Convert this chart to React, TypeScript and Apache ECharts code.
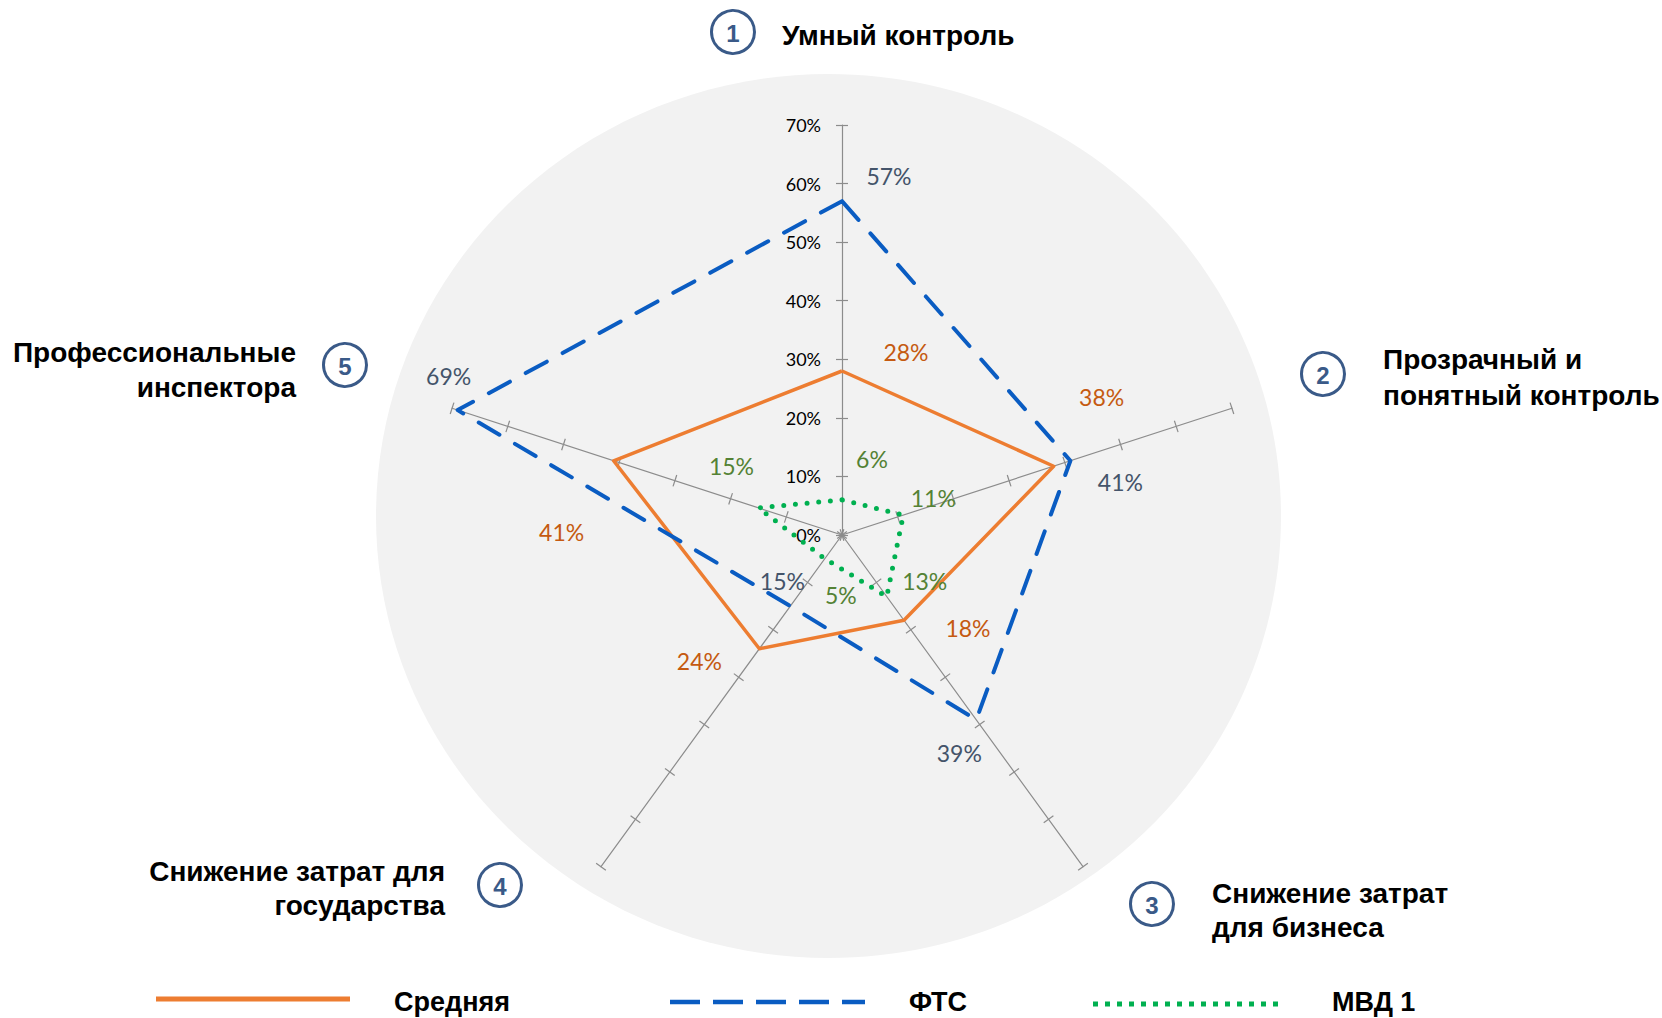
import React, { useEffect, useRef } from 'react';
import * as echarts from 'echarts';

// ---- data ----
const categories = [
  'Умный контроль',
  'Прозрачный и\nпонятный контроль',
  'Снижение затрат\nдля бизнеса',
  'Снижение затрат для\nгосударства',
  'Профессиональные\nинспектора',
];
const categoryNumbers = ['1', '2', '3', '4', '5'];
const seriesNames = ['Средняя', 'ФТС', 'МВД 1'];
const avgValues = [28, 38, 18, 24, 41];
const ftsValues = [57, 41, 39, 15, 69];
const mvdValues = [6, 11, 13, 5, 15];
const tickLabels = ['0%', '10%', '20%', '30%', '40%', '50%', '60%', '70%'];
const tickValues = [0, 10, 20, 30, 40, 50, 60, 70];

// ---- layout / styles ----
const CX = 842;
const CY = 535;
const R = 410;
// display order (ECharts radar runs counter-clockwise from top)
const order = [0, 4, 3, 2, 1];

// label offsets (dx, dy) relative to each vertex, per category
const avgLabelOffsets = [[64, -19], [48, -69], [64, 8], [-60, 12], [-52, 71]];
const ftsLabelOffsets = [[47, -25], [50, 21], [-17, 33], [-8, -25], [-9, -34]];
const mvdLabelOffsets = [[30, -41], [30, -17], [38, -16], [16, 36], [-27, -42]];

const circlePos = [[733, 32], [1323, 374], [1152, 904], [500, 885], [345, 365]];
const namePos: any[] = [
  { x: 782, y: 35, align: 'left', lh: 34 },
  { x: 1383, y: 377, align: 'left', lh: 36 },
  { x: 1212, y: 910, align: 'left', lh: 34 },
  { x: 445, y: 888, align: 'right', lh: 34 },
  { x: 296, y: 370, align: 'right', lh: 35 },
];

const COL_AVG = '#ED7D31';
const COL_FTS = '#0A5CC2';
const COL_MVD = '#00B050';
const LAB_AVG = '#C55A11';
const LAB_FTS = '#44546A';
const LAB_MVD = '#548235';
const NUM_COL = '#3A5A88';
const LABEL_FONT = 'Lato, "Open Sans", sans-serif';
const BOLD_FONT = '"Liberation Sans", Arial, sans-serif';

function makeLabel(values: number[], offsets: number[][], color: string) {
  const rich: any = {};
  offsets.forEach((o, i) => {
    const dx = o[0];
    const dy = o[1];
    rich['p' + i] = {
      color,
      fontSize: 23,
      fontFamily: LABEL_FONT,
      padding: [Math.max(0, 2 * dy), Math.max(0, -2 * dx), Math.max(0, -2 * dy), Math.max(0, 2 * dx)],
    };
  });
  return {
    show: true,
    position: 'inside',
    formatter: (p: any) => {
      const i = values.indexOf(p.value);
      return '{p' + i + '|' + p.value + '%}';
    },
    rich,
  };
}

export default function App() {
  const ref = useRef<HTMLDivElement>(null);
  useEffect(() => {
    if (!ref.current) return;
    const chart = echarts.init(ref.current, null, { renderer: 'svg' });
    const maxV = tickValues[tickValues.length - 1];
    const indicator = order.map((i) => ({
      name: categories[i],
      min: 0,
      max: maxV,
      axisLabel: { show: i === 0 },
    }));
    const indicatorTicks = order.map((i) => ({ name: categories[i], min: 0, max: maxV }));
    const axisColor = '#8C8C8C';
    const baseRadar: any = {
      center: [CX, CY],
      radius: R,
      startAngle: 90,
      shape: 'polygon',
      splitNumber: tickValues.length - 1,
      axisName: { show: false },
      splitLine: { show: false },
      splitArea: { show: false },
    };

    const graphics: any[] = [
      {
        type: 'ellipse',
        z: -10,
        shape: { cx: 828.5, cy: 516, rx: 452.5, ry: 442 },
        style: { fill: '#F2F2F2' },
        silent: true,
      },
    ];
    categories.forEach((c, i) => {
      graphics.push({
        type: 'circle',
        z: 10,
        shape: { cx: circlePos[i][0], cy: circlePos[i][1], r: 21.5 },
        style: { fill: 'none', stroke: NUM_COL, lineWidth: 3 },
      });
      graphics.push({
        type: 'text',
        z: 10,
        x: circlePos[i][0],
        y: circlePos[i][1] + 1,
        style: {
          text: categoryNumbers[i],
          fill: NUM_COL,
          font: 'bold 24px ' + BOLD_FONT,
          align: 'center',
          verticalAlign: 'middle',
        },
      });
      const np = namePos[i];
      graphics.push({
        type: 'text',
        z: 10,
        x: np.x,
        y: np.y,
        style: {
          text: c,
          fill: '#000',
          font: 'bold 28px ' + BOLD_FONT,
          align: np.align,
          verticalAlign: 'middle',
          lineHeight: np.lh,
        },
      });
    });
    // legend
    const legendItems = [
      { name: seriesNames[0], x1: 156, x2: 350, y: 999, color: COL_AVG, width: 5, dash: null, tx: 394 },
      { name: seriesNames[1], x1: 670, x2: 865, y: 1002, color: COL_FTS, width: 4.5, dash: [30, 13], tx: 909 },
      { name: seriesNames[2], x1: 1093, x2: 1283, y: 1004, color: COL_MVD, width: 5, dash: [5, 7], tx: 1332 },
    ];
    legendItems.forEach((l) => {
      graphics.push({
        type: 'line',
        z: 10,
        shape: { x1: l.x1, y1: l.y, x2: l.x2, y2: l.y },
        style: { stroke: l.color, lineWidth: l.width, lineDash: l.dash || undefined },
      });
      graphics.push({
        type: 'text',
        z: 10,
        x: l.tx,
        y: 1002,
        style: {
          text: l.name,
          fill: '#000',
          font: 'bold 27px ' + BOLD_FONT,
          align: 'left',
          verticalAlign: 'middle',
        },
      });
    });

    const option: any = {
      animation: false,
      backgroundColor: '#fff',
      textStyle: { fontFamily: LABEL_FONT },
      graphic: { elements: graphics },
      radar: [
        {
          ...baseRadar,
          indicator,
          axisLine: { show: true, lineStyle: { color: axisColor, width: 1.2 } },
          axisTick: { show: true, length: 6, lineStyle: { color: axisColor, width: 1.2 } },
          axisLabel: {
            show: true,
            color: '#000',
            fontSize: 18,
            fontFamily: LABEL_FONT,
            margin: 21,
            formatter: (v: number) => tickLabels[tickValues.indexOf(Math.round(v))] ?? v + '%',
          },
        },
        {
          ...baseRadar,
          indicator: indicatorTicks,
          axisLine: { show: false },
          axisLabel: { show: false },
          axisTick: { show: true, length: -6, lineStyle: { color: axisColor, width: 1.2 } },
        },
      ],
      series: [
        {
          type: 'radar',
          radarIndex: 0,
          name: seriesNames[0],
          symbol: 'circle',
          symbolSize: 0.1,
          itemStyle: { color: COL_AVG },
          lineStyle: { color: COL_AVG, width: 3.5 },
          label: makeLabel(avgValues, avgLabelOffsets, LAB_AVG),
          data: [{ name: seriesNames[0], value: order.map((i) => avgValues[i]) }],
          z: 3,
        },
        {
          type: 'radar',
          radarIndex: 0,
          name: seriesNames[1],
          symbol: 'circle',
          symbolSize: 0.1,
          itemStyle: { color: COL_FTS },
          lineStyle: { color: COL_FTS, width: 4, type: [24, 18], cap: 'round', join: 'round' },
          label: makeLabel(ftsValues, ftsLabelOffsets, LAB_FTS),
          data: [{ name: seriesNames[1], value: order.map((i) => ftsValues[i]) }],
          z: 4,
        },
        {
          type: 'radar',
          radarIndex: 0,
          name: seriesNames[2],
          symbol: 'circle',
          symbolSize: 0.1,
          itemStyle: { color: COL_MVD },
          lineStyle: { color: COL_MVD, width: 5, type: [0, 11.7], cap: 'round' },
          label: makeLabel(mvdValues, mvdLabelOffsets, LAB_MVD),
          data: [{ name: seriesNames[2], value: order.map((i) => mvdValues[i]) }],
          z: 5,
        },
      ],
    };
    chart.setOption(option);
    return () => chart.dispose();
  }, []);
  return (
    <div
      ref={ref}
      style={{ position: 'fixed', left: 0, top: 0, width: 1662, height: 1018, background: '#fff' }}
    />
  );
}
